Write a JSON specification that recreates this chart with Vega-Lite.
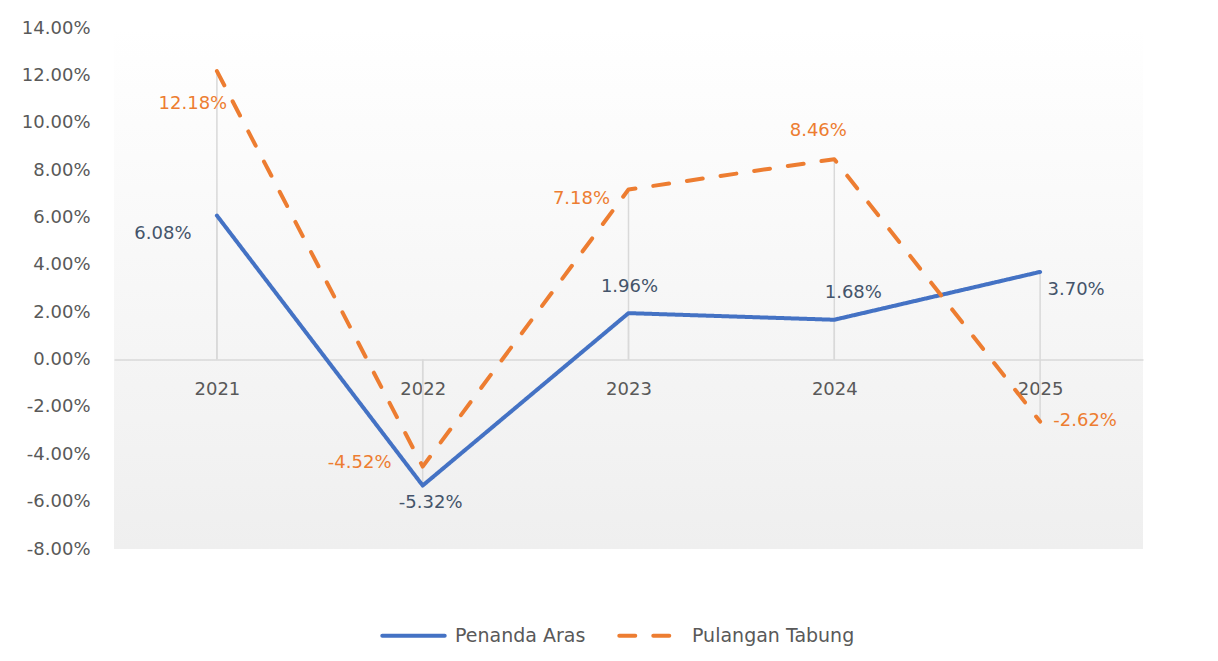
{
  "$schema": "https://vega.github.io/schema/vega-lite/v6.json",
  "autosize": {"type": "none"},
  "width": 1029,
  "height": 521,
  "padding": {"left": 114, "top": 28, "right": 75, "bottom": 112},
  "background": "white",
  "config": {
    "locale": {"number": {"decimal": ".", "thousands": ",", "grouping": [3], "currency": ["$", ""], "minus": "-", "percent": "%"}},
    "view": {"stroke": null, "fill": {"gradient": "linear", "x1": 0, "y1": 0, "x2": 0, "y2": 1, "stops": [{"offset": 0, "color": "#ffffff"}, {"offset": 0.12, "color": "#fdfdfd"}, {"offset": 1, "color": "#efefef"}]}},
    "font": "DejaVu Sans",
    "axis": {"labelFont": "DejaVu Sans", "labelFontSize": 18, "labelColor": "#595959", "ticks": false, "grid": false, "title": null}
  },
  "data": {
    "values": [
      {"year": "2021", "series": "Penanda Aras", "value": 0.0608},
      {"year": "2022", "series": "Penanda Aras", "value": -0.0532},
      {"year": "2023", "series": "Penanda Aras", "value": 0.0196},
      {"year": "2024", "series": "Penanda Aras", "value": 0.0168},
      {"year": "2025", "series": "Penanda Aras", "value": 0.0370},
      {"year": "2021", "series": "Pulangan Tabung", "value": 0.1218},
      {"year": "2022", "series": "Pulangan Tabung", "value": -0.0452},
      {"year": "2023", "series": "Pulangan Tabung", "value": 0.0718},
      {"year": "2024", "series": "Pulangan Tabung", "value": 0.0846},
      {"year": "2025", "series": "Pulangan Tabung", "value": -0.0262}
    ]
  },
  "encoding": {
    "x": {"field": "year", "type": "ordinal", "scale": {"type": "point", "padding": 0.5},
      "axis": {"orient": "bottom", "offset": -189.5, "labelAngle": 0, "labelPadding": 21, "domainColor": "#d9d9d9", "domainWidth": 1.5}},
    "y": {"field": "value", "type": "quantitative", "scale": {"domain": [-0.08, 0.14], "nice": false, "zero": false},
      "axis": {"values": [-0.08, -0.06, -0.04, -0.02, 0, 0.02, 0.04, 0.06, 0.08, 0.1, 0.12, 0.14], "format": ".2%", "domain": false, "labelPadding": 24}}
  },
  "layer": [
    {
      "mark": {"type": "rule", "color": "#d9d9d9", "strokeWidth": 1.5},
      "encoding": {"y2": {"datum": 0}}
    },
    {
      "mark": {"type": "line", "strokeWidth": 4, "strokeCap": "round", "strokeJoin": "round"},
      "encoding": {
        "color": {"field": "series", "type": "nominal", "title": null,
          "scale": {"domain": ["Penanda Aras", "Pulangan Tabung"], "range": ["#4472C4", "#ED7D31"]},
          "legend": {"orient": "none", "legendX": 266, "legendY": 574, "direction": "horizontal", "symbolType": "stroke", "symbolSize": 3900, "symbolStrokeWidth": 4, "labelFontSize": 19, "labelColor": "#595959", "labelFont": "DejaVu Sans", "labelOffset": 8, "labelLimit": 400, "columnPadding": 25, "padding": 0,
            "encode": {"symbols": {"update": {"strokeCap": {"value": "round"}}}}}},
        "strokeDash": {"field": "series", "type": "nominal", "title": null,
          "scale": {"domain": ["Penanda Aras", "Pulangan Tabung"], "range": [[1, 0], [16, 18]]},
          "legend": {"orient": "none", "legendX": 266, "legendY": 574, "direction": "horizontal", "symbolType": "stroke", "symbolSize": 3900, "symbolStrokeWidth": 4, "labelFontSize": 19, "labelColor": "#595959", "labelFont": "DejaVu Sans", "labelOffset": 8, "labelLimit": 400, "columnPadding": 25, "padding": 0,
            "encode": {"symbols": {"update": {"strokeCap": {"value": "round"}}}}}}
      }
    },
    {"transform": [{"filter": "datum.series == 'Penanda Aras' && datum.year == '2021'"}], "mark": {"type": "text", "dx": -54, "dy": 18, "fontSize": 18, "color": "#44546A"}, "encoding": {"text": {"field": "value", "format": ".2%"}}},
    {"transform": [{"filter": "datum.series == 'Penanda Aras' && datum.year == '2022'"}], "mark": {"type": "text", "dx": 8, "dy": 17, "fontSize": 18, "color": "#44546A"}, "encoding": {"text": {"field": "value", "format": ".2%"}}},
    {"transform": [{"filter": "datum.series == 'Penanda Aras' && datum.year == '2023'"}], "mark": {"type": "text", "dx": 1, "dy": -26, "fontSize": 18, "color": "#44546A"}, "encoding": {"text": {"field": "value", "format": ".2%"}}},
    {"transform": [{"filter": "datum.series == 'Penanda Aras' && datum.year == '2024'"}], "mark": {"type": "text", "dx": 19, "dy": -27, "fontSize": 18, "color": "#44546A"}, "encoding": {"text": {"field": "value", "format": ".2%"}}},
    {"transform": [{"filter": "datum.series == 'Penanda Aras' && datum.year == '2025'"}], "mark": {"type": "text", "dx": 36, "dy": 18, "fontSize": 18, "color": "#44546A"}, "encoding": {"text": {"field": "value", "format": ".2%"}}},
    {"transform": [{"filter": "datum.series == 'Pulangan Tabung' && datum.year == '2021'"}], "mark": {"type": "text", "dx": -24, "dy": 33, "fontSize": 18, "color": "#ED7D31"}, "encoding": {"text": {"field": "value", "format": ".2%"}}},
    {"transform": [{"filter": "datum.series == 'Pulangan Tabung' && datum.year == '2022'"}], "mark": {"type": "text", "dx": -63, "dy": -4, "fontSize": 18, "color": "#ED7D31"}, "encoding": {"text": {"field": "value", "format": ".2%"}}},
    {"transform": [{"filter": "datum.series == 'Pulangan Tabung' && datum.year == '2023'"}], "mark": {"type": "text", "dx": -47, "dy": 9, "fontSize": 18, "color": "#ED7D31"}, "encoding": {"text": {"field": "value", "format": ".2%"}}},
    {"transform": [{"filter": "datum.series == 'Pulangan Tabung' && datum.year == '2024'"}], "mark": {"type": "text", "dx": -16, "dy": -28, "fontSize": 18, "color": "#ED7D31"}, "encoding": {"text": {"field": "value", "format": ".2%"}}},
    {"transform": [{"filter": "datum.series == 'Pulangan Tabung' && datum.year == '2025'"}], "mark": {"type": "text", "dx": 45, "dy": -1, "fontSize": 18, "color": "#ED7D31"}, "encoding": {"text": {"field": "value", "format": ".2%"}}}
  ]
}
